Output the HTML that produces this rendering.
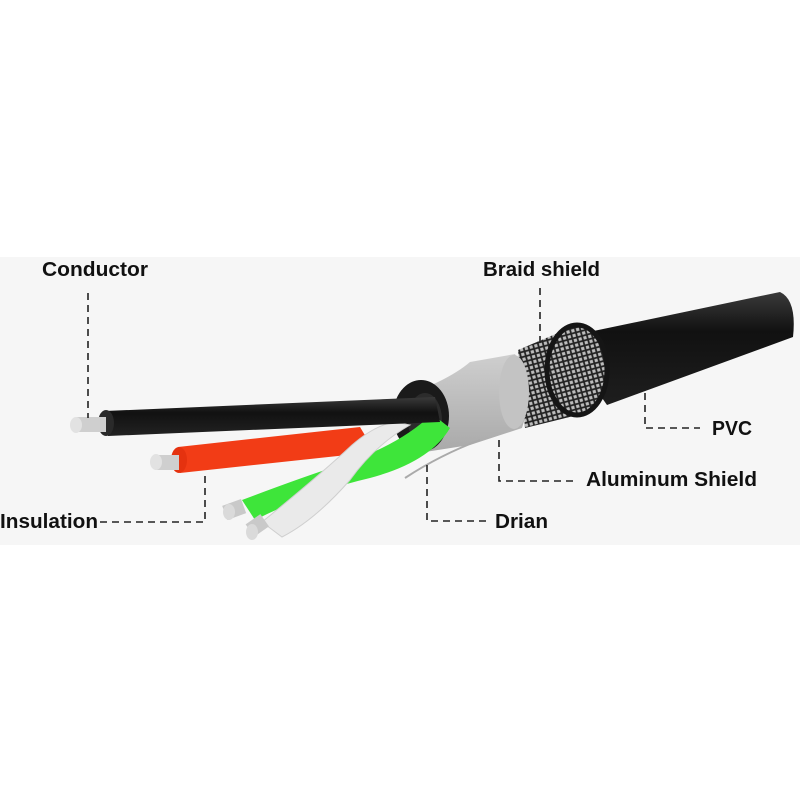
<!DOCTYPE html>
<html><head><style>
html,body{margin:0;padding:0;background:#fff;}
svg{display:block;}
text{font-family:"Liberation Sans Narrow","Liberation Sans",sans-serif;font-weight:bold;font-size:20px;fill:#111;}
</style></head><body>
<svg width="800" height="800" viewBox="0 0 800 800" xmlns="http://www.w3.org/2000/svg">
<defs>
<pattern id="br" width="7" height="7" patternUnits="userSpaceOnUse" patternTransform="rotate(30)">
<rect width="7" height="7" fill="#bdbdbd"/>
<path d="M0 0L7 7M7 0L0 7" stroke="#222" stroke-width="1.8"/>
</pattern>
<linearGradient id="pv" x1="0" y1="0" x2="0" y2="1">
<stop offset="0" stop-color="#3a3a3a"/><stop offset="0.35" stop-color="#111"/><stop offset="1" stop-color="#1e1e1e"/>
</linearGradient>
<linearGradient id="al" x1="0" y1="0" x2="0" y2="1">
<stop offset="0" stop-color="#cfcfcf"/><stop offset="1" stop-color="#a9a9a9"/>
</linearGradient>
<linearGradient id="bw" x1="0" y1="0" x2="0" y2="1">
<stop offset="0" stop-color="#3a3a3a"/><stop offset="0.4" stop-color="#111"/><stop offset="1" stop-color="#222"/>
</linearGradient>
</defs>
<rect x="0" y="257" width="800" height="288" fill="#f6f6f6"/>
<!-- PVC -->
<path d="M560 338 L780 292 Q797 300 793 337 L607 405 Z" fill="url(#pv)"/>
<!-- braid body -->
<path d="M518 350 L565 330 L590 412 L525 428 Z" fill="url(#br)"/>
<ellipse cx="577" cy="370" rx="30" ry="45" fill="url(#br)" stroke="#151515" stroke-width="5"/>
<!-- aluminum -->
<path d="M425 388 Q455 375 470 362 L515 354 Q535 390 522 428 L470 445 L425 452 Z" fill="url(#al)"/>
<ellipse cx="514" cy="392" rx="15" ry="37" fill="#c3c3c3"/>
<!-- drain wire -->
<path d="M405 478 Q440 455 480 440" stroke="#aaa" stroke-width="2" fill="none"/>
<!-- black ring -->
<ellipse cx="421" cy="416" rx="28" ry="36" fill="#1a1a1a"/>
<ellipse cx="425" cy="420" rx="17" ry="27" fill="#2c2c2c"/>
<!-- red wire -->
<path d="M178 447 L360 427 L375 452 L180 473 Z" fill="#f23c16"/>
<ellipse cx="179" cy="460" rx="8" ry="13" fill="#e5320f"/>
<rect x="155" y="455" width="24" height="15" fill="#cfcfcf"/>
<ellipse cx="156" cy="462" rx="6" ry="8" fill="#e2e2e2"/>
<!-- green wire -->
<path d="M242 500 Q300 478 340 465 Q400 445 432 414 L450 428 Q430 462 370 478 Q310 492 255 520 Z" fill="#3ee53a"/>
<!-- white wire -->
<path d="M262 522 Q320 475 352 445 Q375 425 395 422 L410 425 Q375 445 350 480 Q315 520 282 537 Z" fill="#eaeaea" stroke="#cfcfcf"/>
<!-- green tip -->
<rect x="224" y="502" width="20" height="15" fill="#c9c9c9" transform="rotate(-20 234 509)"/>
<ellipse cx="229" cy="512" rx="6" ry="8" fill="#dadada"/>
<!-- white tip -->
<rect x="248" y="518" width="18" height="15" fill="#c9c9c9" transform="rotate(-35 257 525)"/>
<ellipse cx="252" cy="532" rx="6" ry="8" fill="#dadada"/>
<!-- black wire -->
<path d="M105 411 L435 397 L440 422 L108 436 Z" fill="url(#bw)"/>
<ellipse cx="106" cy="423" rx="8" ry="13" fill="#2a2a2a"/>
<rect x="76" y="417" width="30" height="15" fill="#cfcfcf"/>
<ellipse cx="76" cy="425" rx="6" ry="8" fill="#e2e2e2"/>
<!-- dashed leaders -->
<g stroke="#222" stroke-width="1.6" stroke-dasharray="7,5" fill="none">
<path d="M88 293 V418"/>
<path d="M540 288 V345"/>
<path d="M645 393 V428 H700"/>
<path d="M499 440 V481 H576"/>
<path d="M427 465 V521 H488"/>
<path d="M100 522 H205 V472"/>
</g>
<text x="42" y="276" textLength="106" lengthAdjust="spacingAndGlyphs">Conductor</text>
<text x="483" y="276" textLength="117" lengthAdjust="spacingAndGlyphs">Braid shield</text>
<text x="712" y="435" textLength="40" lengthAdjust="spacingAndGlyphs">PVC</text>
<text x="586" y="486" textLength="171" lengthAdjust="spacingAndGlyphs">Aluminum Shield</text>
<text x="495" y="528" textLength="53" lengthAdjust="spacingAndGlyphs">Drian</text>
<text x="0" y="528" textLength="98" lengthAdjust="spacingAndGlyphs">Insulation</text>
</svg>
</body></html>
